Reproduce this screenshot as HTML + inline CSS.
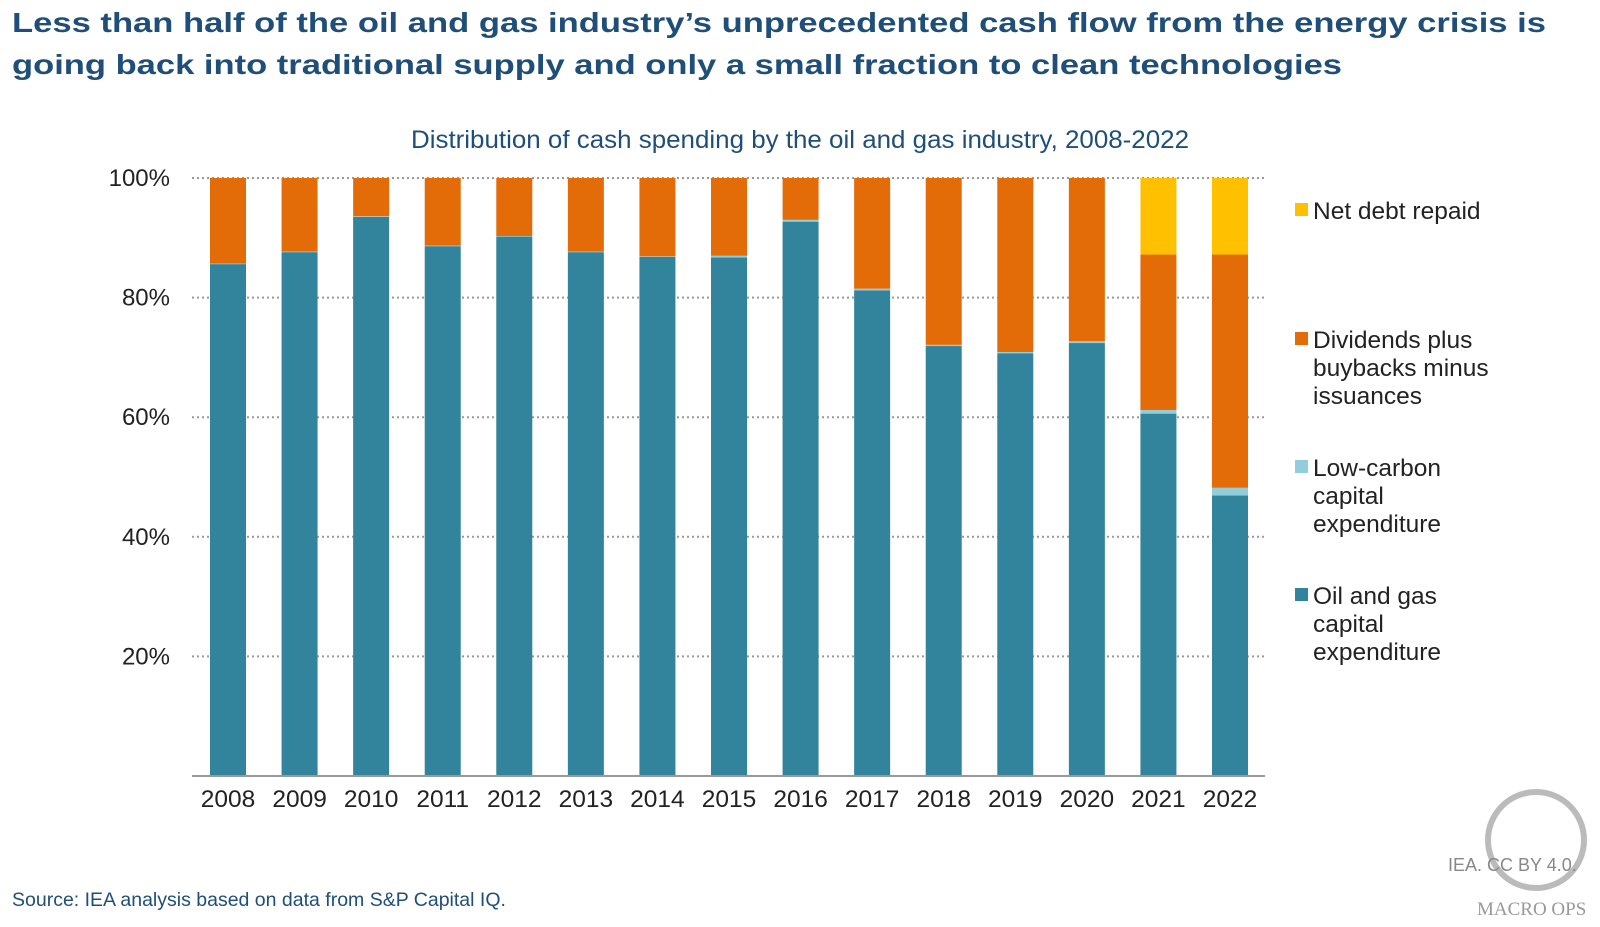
<!DOCTYPE html>
<html><head><meta charset="utf-8"><style>
body{margin:0;background:#fff;}
svg{display:block;font-family:"Liberation Sans",Arial,sans-serif;}
</style></head><body>
<svg id="chart" width="1600" height="927" viewBox="0 0 1600 927">
<text x="12" y="32" font-size="28" font-weight="bold" fill="#1f4e79" textLength="1534" lengthAdjust="spacingAndGlyphs">Less than half of the oil and gas industry’s unprecedented cash flow from the energy crisis is</text>
<text x="12" y="74" font-size="28" font-weight="bold" fill="#1f4e79" textLength="1330" lengthAdjust="spacingAndGlyphs">going back into traditional supply and only a small fraction to clean technologies</text>
<text x="800" y="148" font-size="25" fill="#1f4e79" text-anchor="middle" textLength="778" lengthAdjust="spacingAndGlyphs">Distribution of cash spending by the oil and gas industry, 2008-2022</text>
<g id="grid"></g>
<g id="bars"></g>
<g id="axes"></g>
<g id="legend"></g>
<text x="12" y="906" font-size="19.5" fill="#1f4e79">Source: IEA analysis based on data from S&amp;P Capital IQ.</text>
<g>
<circle cx="1536" cy="840" r="48" fill="none" stroke="#aaa" stroke-width="6" opacity="0.8"/>
<text x="1448" y="871" font-size="18" fill="#888">IEA. CC BY 4.0.</text>
<text x="1477" y="915" font-size="19" fill="#999" font-family="Liberation Serif,serif">MACRO OPS</text>
</g>
</svg>
<script>
const years = ["2008","2009","2010","2011","2012","2013","2014","2015","2016","2017","2018","2019","2020","2021","2022"];
const oilGasCapex = [85.6,87.6,93.5,88.6,90.2,87.6,86.8,86.7,92.7,81.2,71.9,70.7,72.4,60.6,46.9];
const lowCarbonCapex = [0.1,0.1,0.1,0.1,0.1,0.1,0.1,0.3,0.3,0.3,0.2,0.2,0.3,0.6,1.3];
const netDebtRepaid = [0,0,0,0,0,0,0,0,0,0,0,0,0,12.8,12.8];
const yTicks = [20,40,60,80,100];
const seriesNames = ["Net debt repaid","Dividends plus|buybacks minus|issuances","Low-carbon|capital|expenditure","Oil and gas|capital|expenditure"];
const colors = {oil:"#31849b",low:"#92cddc",div:"#e36c09",debt:"#ffc000"};
const NS="http://www.w3.org/2000/svg";
const x0=192,x1=1265,yBase=776,yTop=178;
const step=(1212-210)/14, bw=36, firstCenter=228;
const xC=i=>firstCenter+i*step;
const yS=v=>yBase-(yBase-yTop)*v/100;
function mk(tag,attrs,parent){const e=document.createElementNS(NS,tag);for(const k in attrs)e.setAttribute(k,attrs[k]);parent.appendChild(e);return e;}
const grid=document.getElementById('grid'),bars=document.getElementById('bars'),axes=document.getElementById('axes'),legend=document.getElementById('legend');
yTicks.forEach(t=>{
  const l=mk('line',{x1:x0,x2:x1,y1:yS(t),y2:yS(t),stroke:"#999","stroke-width":2,"stroke-dasharray":"2 3"},grid);
  
  
  const tx=mk('text',{x:170,y:yS(t)+8,"font-size":24,fill:"#222","text-anchor":"end"},axes);
  tx.textContent=t+"%";
  
  
});
years.forEach((yr,i)=>{
  const divv=100-oilGasCapex[i]-lowCarbonCapex[i]-netDebtRepaid[i];
  const segs=[[oilGasCapex[i],colors.oil,'bar-oil-gas-capex'],[lowCarbonCapex[i],colors.low,'bar-low-carbon-capex'],[divv,colors.div,'bar-dividends'],[netDebtRepaid[i],colors.debt,'bar-net-debt']];
  let acc=0;
  segs.forEach(s=>{
    if(s[0]<=0)return;
    const r=mk('rect',{x:xC(i)-bw/2,y:yS(acc+s[0]),width:bw,height:yS(acc)-yS(acc+s[0]),fill:s[1]},bars);
    
    
    acc+=s[0];
  });
  const tx=mk('text',{x:xC(i),y:807,"font-size":24.5,fill:"#222","text-anchor":"middle"},axes);
  tx.textContent=yr;
  
  
});
const ax=mk('line',{x1:x0,x2:x1,y1:yBase,y2:yBase,stroke:"#999","stroke-width":2},axes);


const legY=[210,339,467,595];
const legC=[colors.debt,colors.div,colors.low,colors.oil];
seriesNames.forEach((n,i)=>{
  const g=mk('g',{},legend);
  
  
  mk('rect',{x:1295,y:legY[i]-7,width:13,height:13,fill:legC[i]},g);
  n.split('|').forEach((ln,j)=>{
    const t=mk('text',{x:1313,y:legY[i]+9+j*28,"font-size":24.5,fill:"#222"},g);
    t.textContent=ln;
  });
});
</script>
</body></html>
